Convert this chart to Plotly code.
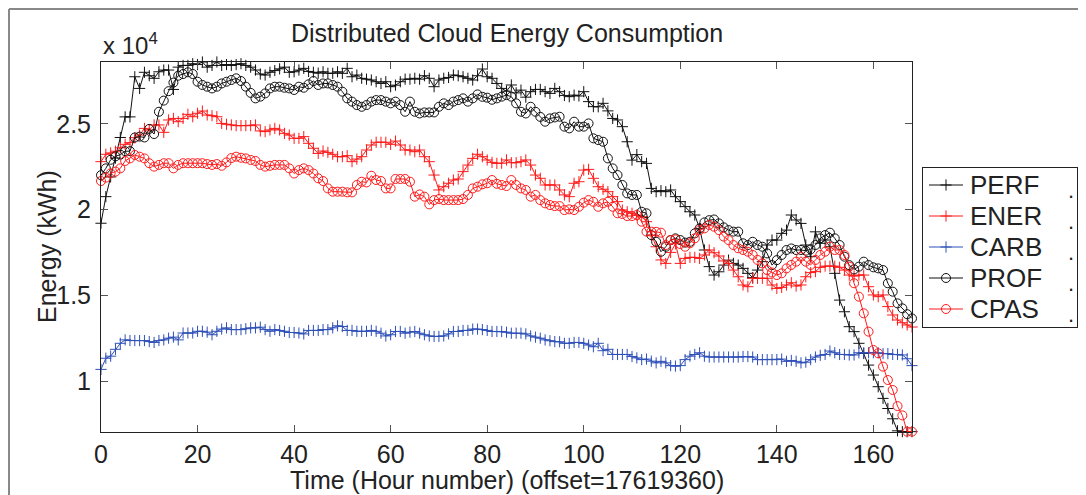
import plotly.graph_objects as go

# hour index 0..168 (offset=17619360)
hours = list(range(169))

# energy per hour, kWh
perf = [
    19200, 20750, 21900, 23000, 24200, 25400, 25400, 27740, 27060, 28000,
    27800, 27650, 28030, 28130, 28130, 27000, 28300, 28400, 28400, 28500,
    28450, 28600, 28300, 28400, 28600, 28400, 28450, 28400, 28450, 28500,
    28400, 28300, 28130, 27900, 27840, 28000, 28100, 28200, 28300, 28000,
    28030, 28130, 28230, 28050, 28000, 27950, 28030, 27940, 27940, 28030,
    27940, 28230, 27740, 27840, 27650, 27600, 27550, 27450, 27350, 27450,
    27160, 27250, 27450, 27600, 27600, 27650, 27600, 27800, 27650, 27160,
    27550, 27650, 27700, 27840, 27800, 27740, 27650, 27550, 27800, 28190,
    27740, 27650, 27350, 27060, 26900, 27260, 26800, 26960, 26550, 26870,
    27000, 27000, 26870, 26770, 27060, 26870, 26650, 26580, 26670, 26620,
    26870, 26290, 26000, 25990, 26190, 25750, 25310, 25220, 24830, 23950,
    22880, 23200, 22790, 22690, 21230, 21040, 21100, 21040, 21140, 20750,
    20460, 20170, 19870, 19680, 18900, 17640, 16670, 16180, 16370, 16760,
    17050, 16860, 16760, 16570, 16280, 16030, 16470, 16960, 17930, 18220,
    18220, 18610, 18800, 19680, 19390, 19190, 17930, 17250, 18700, 18030,
    18220, 17830, 16280, 14720, 14040, 13170, 12880, 12200, 11610, 10930,
    10350, 9670, 8990, 8400, 7800, 7100, 7050, 7050, 7050,
]
ener = [
    22790, 23220, 23300, 23400, 23600, 23800, 23900, 24190, 24340, 24730,
    24630, 24930, 24930, 24500, 25220, 25310, 25120, 25310, 25550, 25410,
    25610, 25740, 25510, 25470, 25410, 25020, 24970, 24930, 24890, 24890,
    24890, 24890, 24930, 24580, 24540, 24640, 24730, 24640, 24440, 24340,
    24150, 24150, 24250, 23860, 23570, 23270, 23410, 23330, 23220, 23080,
    23080, 23140, 22790, 22940, 23080, 23470, 23760, 23920, 23920, 23920,
    23800, 23990, 23760, 23470, 23470, 23370, 23470, 23080, 22790, 22010,
    21140, 21330, 21530, 21720, 21780, 22210, 22590, 22980, 23220, 23080,
    22890, 22750, 22690, 22700, 22890, 22730, 22730, 22790, 22890, 22590,
    22010, 21820, 21430, 21430, 21430, 21140, 20850, 20750, 21530, 21620,
    22300, 22340, 21820, 21330, 21180, 21040, 20750, 20460, 19970, 19870,
    19780, 19680, 19580, 19290, 18500, 17830, 17060, 16860, 17500, 18000,
    16860, 17150, 17210, 17210, 17150, 17350, 17640, 17480, 17290, 17000,
    16860, 16470, 16080, 15600, 15500, 15990, 15990, 15990, 15990, 15600,
    15400, 15460, 15600, 15730, 15540, 15600, 16080, 16320, 16380, 16630,
    16700, 16700, 16700, 16630, 16470, 16180, 16120, 16180, 16180, 15500,
    15020, 14920, 15020, 14340, 13850, 13560, 13400, 13270, 13150,
]
carb = [
    10680, 11330, 11450, 11850, 12200, 12400, 12360, 12360, 12360, 12360,
    12300, 12250, 12360, 12400, 12500, 12560, 12400, 12800, 12800, 12800,
    12900, 12900, 12850, 12700, 12900, 13030, 13100, 13000, 13000, 13000,
    13050, 13100, 13100, 13140, 13000, 12900, 13000, 12950, 12900, 12830,
    12830, 12800, 12750, 12950, 12950, 12950, 13000, 13000, 13100, 13220,
    13180, 12950, 12950, 12900, 12900, 12900, 12950, 12900, 12790, 12630,
    12700, 12890, 12890, 12790, 12850, 12890, 12790, 12700, 12630, 12600,
    12600, 12630, 12750, 12890, 12890, 12950, 12950, 13030, 13030, 13000,
    12950, 12890, 12890, 12890, 12850, 12790, 12790, 12790, 12750, 12630,
    12560, 12500, 12400, 12350, 12300, 12290, 12200, 12200, 12250, 12250,
    12200, 12100, 12000, 12200, 11770, 11850, 11550, 11550, 11550, 11550,
    11430, 11350, 11250, 11280, 11160, 11060, 11150, 11060, 10900, 10870,
    10900, 11250, 11450, 11550, 11650, 11450, 11400, 11400, 11400, 11400,
    11400, 11400, 11400, 11430, 11430, 11400, 11250, 11250, 11250, 11250,
    11250, 11280, 11150, 11200, 11150, 11060, 11100, 11250, 11400, 11500,
    11550, 11750, 11650, 11550, 11550, 11520, 11520, 11650, 11650, 11650,
    11650, 11650, 11600, 11600, 11550, 11550, 11520, 11300, 10900,
]
prof = [
    22000, 22400, 22900, 23100, 23200, 23400, 23400, 24200, 24250, 24200,
    24700, 24400, 25700, 26350, 26900, 27400, 27800, 27900, 28000, 27900,
    27450, 27260, 27160, 27060, 27160, 27350, 27450, 27550, 27650, 27490,
    27160, 26800, 26480, 26580, 26770, 27060, 27160, 27160, 27100, 27060,
    26970, 27160, 27100, 27300, 27490, 27260, 27350, 27350, 27260, 27160,
    26870, 26480, 26290, 26090, 25990, 26090, 26290, 26380, 26380, 26290,
    26190, 26290, 26090, 25700, 26290, 25700, 25600, 25660, 25660, 25660,
    25990, 26190, 26090, 26290, 26380, 26480, 26290, 26480, 26710, 26570,
    26520, 26400, 26480, 26580, 26670, 26580, 26190, 25700, 25600, 25990,
    25700, 25400, 25120, 25310, 25370, 25410, 24830, 24730, 25120, 24830,
    24830, 25020, 24150, 24050, 23950, 22980, 22400, 22010, 21430, 20940,
    20850, 20850, 19870, 19780, 18510, 18120, 17540, 17830, 18220, 18320,
    18220, 18070, 18120, 18610, 18900, 19250, 19380, 19420, 19190, 18960,
    18800, 18710, 18710, 18030, 17930, 18120, 17930, 17830, 17440, 16760,
    17050, 17350, 17640, 17730, 17640, 17640, 17600, 17680, 17930, 18320,
    18510, 18650, 18320, 17930, 17250, 16760, 16510, 16670, 16960, 16760,
    16630, 16570, 16470, 15700, 15210, 14530, 14240, 13900, 13650,
]
cpas = [
    21660, 21860, 22110, 22210, 22400, 22830, 22980, 23180, 23080, 22980,
    22700, 22500, 22600, 22700, 22700, 22400, 22600, 22700, 22700, 22700,
    22700, 22700, 22650, 22600, 22650, 22550, 22750, 23000, 23080, 23020,
    22980, 22890, 22830, 22600, 22500, 22550, 22600, 22600, 22600, 22400,
    22100, 22300, 22400, 22300, 22100, 21820, 21660, 21230, 21040, 21040,
    21040, 21000, 21000, 21430, 21620, 21580, 21970, 21720, 21660, 21230,
    21230, 21780, 21780, 21780, 21620, 20750, 20880, 20750, 20300, 20550,
    20610, 20550, 20550, 20550, 20550, 20610, 20850, 21230, 21330, 21470,
    21530, 21720, 21500, 21430, 21370, 21720, 21430, 21230, 21140, 20750,
    20850, 20550, 20360, 20260, 20200, 20200, 19970, 20010, 19970, 20160,
    20400, 20550, 20450, 20160, 20360, 20450, 20160, 19780, 19740, 19620,
    19620, 19680, 19290, 18710, 18710, 18700, 18650, 17930, 18220, 18260,
    17990, 17830, 18030, 18320, 18800, 18900, 19100, 19000, 18800, 18420,
    18220, 17930, 17740, 17640, 17540, 17350, 17060, 16860, 16470, 16330,
    16180, 16280, 16570, 16770, 16960, 17250, 16960, 16770, 17060, 17350,
    17540, 17830, 17640, 17640, 17350, 16670, 15700, 14920, 13950, 12880,
    11810, 11620, 10840, 10060, 9480, 8540, 8000, 7050, 7050,
]

series_names = ['PERF', 'ENER', 'CARB', 'PROF', 'CPAS']
y_ticks = [10000, 15000, 20000, 25000]
y_ticktext = ['1', '1.5', '2', '2.5']

font = 'Liberation Sans, Arial, Helvetica, sans-serif'
ink = '#222222'
styles = [
    (perf, '#111111', 'cross-thin', 8),
    (ener, '#ff1a1a', 'cross-thin', 8),
    (carb, '#2f50b8', 'cross-thin', 8),
    (prof, '#111111', 'circle-open', 9),
    (cpas, '#ff1a1a', 'circle-open', 9),
]

# the page puts the figure 8px in from the top-left corner, so all
# positions below are page pixels converted to figure fractions
OFF = 8
W, H = 1086 - OFF, 495 - OFF


def fx(x):
    return (x - OFF) / W


def fy(y):
    return (H - (y - OFF)) / H


# plot area (page px): x 101..912, y 62..432 ; legend box x 923..1077, y 168..327
LX0, LX1, LY0, LY1 = 923, 1077, 168, 327

fig = go.Figure()
for name, (vals, color, symbol, size) in zip(series_names, styles):
    fig.add_trace(go.Scatter(
        x=hours, y=vals, name=name, mode='lines+markers',
        line=dict(color=color, width=1),
        marker=dict(symbol=symbol, size=size, color=color,
                    line=dict(color=color, width=1)),
        cliponaxis=False, showlegend=False,
    ))

# hand-made MATLAB-style legend on its own little axes (pixel units)
entry_y = [17, 48, 79, 110, 141]
for i, (name, (vals, color, symbol, size)) in enumerate(zip(series_names, styles)):
    yy = entry_y[i]
    fig.add_trace(go.Scatter(
        x=[6, 40], y=[yy, yy], mode='lines', xaxis='x2', yaxis='y2',
        line=dict(color=color, width=1), showlegend=False, hoverinfo='skip',
    ))
    fig.add_trace(go.Scatter(
        x=[23], y=[yy], mode='markers', xaxis='x2', yaxis='y2',
        marker=dict(symbol=symbol, size=size, color=color,
                    line=dict(color=color, width=1)),
        showlegend=False, hoverinfo='skip',
    ))
    fig.add_annotation(text=name, xref='x2', yref='y2', x=45, y=yy,
                       xanchor='left', yanchor='middle', showarrow=False,
                       font=dict(size=26, color=ink))
    fig.add_annotation(text='.', xref='x2', yref='y2', x=148, y=yy + 5,
                       xanchor='center', yanchor='middle', showarrow=False,
                       font=dict(size=22, color=ink))

axis_common = dict(
    showline=True, linecolor=ink, linewidth=1, mirror='ticks',
    ticks='inside', ticklen=7, tickcolor='#555555', tickwidth=1,
    showgrid=False, zeroline=False, automargin=False,
    tickfont=dict(family=font, size=25, color=ink),
)

fig.update_layout(
    width=W, height=H,
    margin=dict(l=0, r=0, t=0, b=0, autoexpand=False),
    paper_bgcolor='white', plot_bgcolor='white',
    font=dict(family=font, color=ink),
    xaxis=dict(domain=[fx(101), fx(912)], range=[0, 168],
               tickvals=list(range(0, 161, 20)), **axis_common),
    yaxis=dict(domain=[fy(432), fy(62)], range=[7030, 28600],
               tickvals=y_ticks, ticktext=y_ticktext,
               ticklabelstandoff=4, **axis_common),
    xaxis2=dict(domain=[fx(LX0), fx(LX1)], range=[0, LX1 - LX0],
                anchor='y2', showline=True, mirror=True, linecolor=ink,
                linewidth=1, showticklabels=False, ticks='', showgrid=False,
                zeroline=False, fixedrange=True),
    yaxis2=dict(domain=[fy(LY1), fy(LY0)], range=[LY1 - LY0, 0],
                anchor='x2', showline=True, mirror=True, linecolor=ink,
                linewidth=1, showticklabels=False, ticks='', showgrid=False,
                zeroline=False, fixedrange=True),
    showlegend=False,
)

# title and axis titles
fig.add_annotation(text='Distributed Cloud Energy Consumption',
                   xref='paper', yref='paper', x=fx(506.5), y=fy(33),
                   xanchor='center', yanchor='middle', showarrow=False,
                   font=dict(size=25, color=ink))
fig.add_annotation(text='Time (Hour number) (offset=17619360)',
                   xref='paper', yref='paper', x=fx(506.5), y=fy(480),
                   xanchor='center', yanchor='middle', showarrow=False,
                   font=dict(size=25, color=ink))
fig.add_annotation(text='Energy (kWh)', textangle=-90,
                   xref='paper', yref='paper', x=fx(47), y=fy(247),
                   xanchor='center', yanchor='middle', showarrow=False,
                   font=dict(size=25, color=ink))

# exponent label in MATLAB style
fig.add_annotation(text='x 10<sup>4</sup>', xref='paper', yref='paper',
                   x=fx(101), y=fy(61), xanchor='left', yanchor='bottom',
                   showarrow=False, font=dict(size=24, color=ink))

# figure frame (top and left edges)
fig.add_shape(type='line', xref='paper', yref='paper',
              x0=fx(9), y0=fy(9), x1=1, y1=fy(9),
              line=dict(color='#888888', width=2))
fig.add_shape(type='line', xref='paper', yref='paper',
              x0=fx(9), y0=fy(9), x1=fx(9), y1=0,
              line=dict(color='#888888', width=2))

fig.write_html('out.html')
